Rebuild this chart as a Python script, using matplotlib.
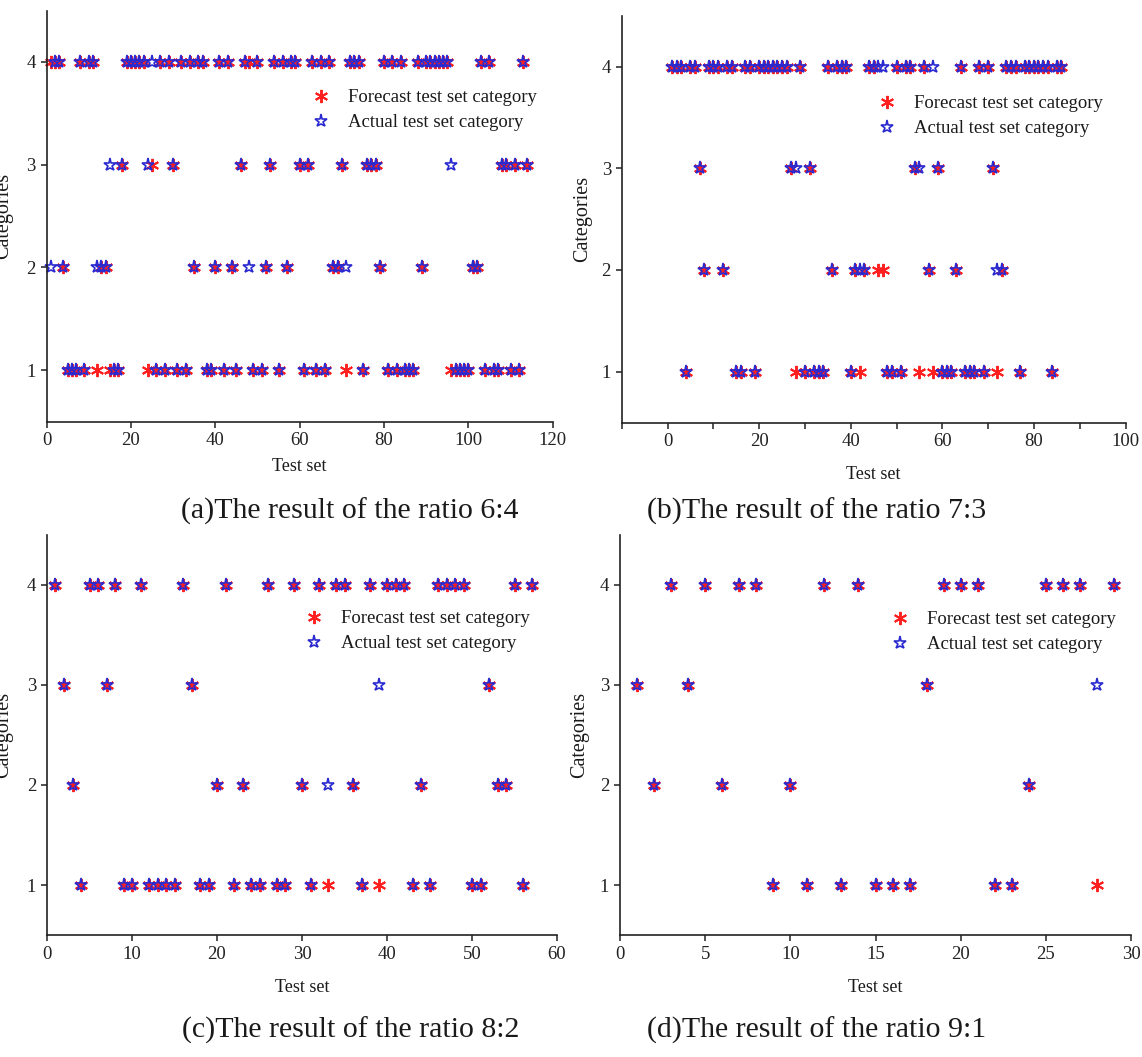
import numpy as np
import matplotlib
matplotlib.use('Agg')
import matplotlib.pyplot as plt

plt.rcParams['font.family'] = ['Liberation Serif', 'DejaVu Serif']

# ---------------- data ----------------
# (a) ratio 6:4
actual_a = [2,4,4,2,1,1,1,4,1,4,
            4,2,2,2,3,1,1,3,4,4,
            4,4,4,3,4,1,4,1,4,3,
            1,4,1,4,2,4,4,1,1,2,
            4,1,4,2,1,3,4,2,1,4,
            1,2,3,4,1,4,2,4,4,3,
            1,3,4,1,4,1,4,2,2,3,
            2,4,4,4,1,3,3,3,2,4,
            1,4,1,4,1,1,1,4,2,4,
            4,4,4,4,4,3,1,1,1,1,
            2,2,4,1,4,1,1,3,3,1,
            3,1,4,3]
forecast_a = [4,4,4,2,1,1,1,4,1,4,
              4,1,2,2,1,1,1,3,4,4,
              4,4,4,1,3,1,4,1,4,3,
              1,4,1,4,2,4,4,1,1,2,
              4,1,4,2,1,3,4,4,1,4,
              1,2,3,4,1,4,2,4,4,3,
              1,3,4,1,4,1,4,2,2,3,
              1,4,4,4,1,3,3,3,2,4,
              1,4,1,4,1,1,1,4,2,4,
              4,4,4,4,4,1,1,1,1,1,
              2,2,4,1,4,1,1,3,3,1,
              3,1,4,3]
# (b) ratio 7:3
actual_b = [4,4,4,1,4,4,3,2,4,4,
            4,2,4,4,1,1,4,4,1,4,
            4,4,4,4,4,4,3,3,4,1,
            3,1,1,1,4,2,4,4,4,1,
            2,2,2,4,4,4,4,1,1,4,
            1,4,4,3,3,4,2,4,3,1,
            1,1,2,4,1,1,1,4,1,4,
            3,2,2,4,4,4,1,4,4,4,
            4,4,4,1,4,4]
forecast_b = [4,4,4,1,4,4,3,2,4,4,
              4,2,4,4,1,1,4,4,1,4,
              4,4,4,4,4,4,3,1,4,1,
              3,1,1,1,4,2,4,4,4,1,
              2,1,2,4,4,2,2,1,1,4,
              1,4,4,3,1,4,2,1,3,1,
              1,1,2,4,1,1,1,4,1,4,
              3,1,2,4,4,4,1,4,4,4,
              4,4,4,1,4,4]
# (c) ratio 8:2
actual_c = [4,3,2,1,4,4,3,4,1,1,
            4,1,1,1,1,4,3,1,1,2,
            4,1,2,1,1,4,1,1,4,2,
            1,4,2,4,4,2,1,4,3,4,
            4,4,1,2,1,4,4,4,4,1,
            1,3,2,2,4,1,4]
forecast_c = [4,3,2,1,4,4,3,4,1,1,
              4,1,1,1,1,4,3,1,1,2,
              4,1,2,1,1,4,1,1,4,2,
              1,4,1,4,4,2,1,4,1,4,
              4,4,1,2,1,4,4,4,4,1,
              1,3,2,2,4,1,4]
# (d) ratio 9:1
actual_d = [3,2,4,3,4,2,4,4,1,2,1,4,1,4,1,1,1,3,4,4,4,1,1,2,4,4,4,3,4]
forecast_d = [3,2,4,3,4,2,4,4,1,2,1,4,1,4,1,1,1,3,4,4,4,1,1,2,4,4,4,1,4]

captions = ["(a)The result of the ratio 6:4", "(b)The result of the ratio 7:3",
            "(c)The result of the ratio 8:2", "(d)The result of the ratio 9:1"]
legend_labels = ["Forecast test set category", "Actual test set category"]
xlabel_text = "Test set"
ylabel_text = "Categories"
ytick_values = [1, 2, 3, 4]

# ---------------- layout ----------------
W, H = 1142, 1057
fig = plt.figure(figsize=(W / 100, H / 100), dpi=100)
RED = '#ff1f1f'
BLUE = '#2a2ad0'
TXT = '#1a1a1a'

panels = [
    dict(a=actual_a, f=forecast_a, box=(46.5, 552.7, 10.6, 421.5), xlim=(0, 120),
         xticks=list(range(0, 121, 20)), xlabels=None, ylx=-0.0655, xly=-0.088,
         leg=(312, 89), cap=(350, 511)),
    dict(a=actual_b, f=forecast_b, box=(621.8, 1125.5, 15.7, 422.5), xlim=(-10, 100),
         xticks=list(range(-10, 101, 10)),
         xlabels=[str(v) if v % 20 == 0 else '' for v in range(-10, 101, 10)],
         ylx=-0.0598, xly=-0.108, leg=(878, 95), cap=(817, 511)),
    dict(a=actual_c, f=forecast_c, box=(47, 557, 535, 935), xlim=(0, 60),
         xticks=list(range(0, 61, 10)), xlabels=None, ylx=-0.0667, xly=-0.11,
         leg=(305, 610), cap=(351, 1030)),
    dict(a=actual_d, f=forecast_d, box=(620, 1131, 535, 935), xlim=(0, 30),
         xticks=list(range(0, 31, 5)), xlabels=None, ylx=-0.06, xly=-0.11,
         leg=(891, 611), cap=(817, 1030)),
]

for p, cap in zip(panels, captions):
    l, r, t, b = p['box']
    ax = fig.add_axes([l / W, 1 - b / H, (r - l) / W, (b - t) / H])
    x = np.arange(1, len(p['a']) + 1)
    ax.plot(x, p['f'], ls='none', marker=(6, 2, 0), ms=9.5, mec=RED, mfc=RED,
            mew=1.4, label=legend_labels[0], clip_on=False)
    ax.plot(x, p['a'], ls='none', marker='*', ms=9.5, mfc='none', mec=BLUE,
            mew=1.2, label=legend_labels[1], clip_on=False)
    ax.set_xlim(*p['xlim'])
    ax.set_ylim(0.5, 4.5)
    ax.set_xticks(p['xticks'])
    if p['xlabels'] is not None:
        ax.set_xticklabels(p['xlabels'])
    ax.set_yticks(ytick_values)
    for s in ['top', 'right']:
        ax.spines[s].set_visible(False)
    for s in ['left', 'bottom']:
        ax.spines[s].set_linewidth(1.2)
        ax.spines[s].set_color('#222222')
    ax.tick_params(direction='out', length=4.3, width=1.1, labelsize=13.5,
                   colors='#222222', pad=3.5)
    ax.set_xlabel(xlabel_text, fontsize=13, color=TXT)
    ax.set_ylabel(ylabel_text, fontsize=14.5, color=TXT)
    ax.xaxis.set_label_coords(0.5, p['xly'])
    ax.yaxis.set_label_coords(p['ylx'], 0.5)
    lx, ly = p['leg']
    ax.legend(loc='upper left', bbox_to_anchor=(lx / W, 1 - ly / H),
              bbox_transform=fig.transFigure, frameon=False, borderpad=0,
              borderaxespad=0, handlelength=1.0, handletextpad=0.9,
              labelspacing=0.42, fontsize=13.5, numpoints=1, labelcolor=TXT)
    cx, cy = p['cap']
    fig.text(cx / W, 1 - cy / H, cap, ha='center', va='center', fontsize=21.5,
             color=TXT)

fig.savefig('out.png', dpi=100, facecolor='white')
